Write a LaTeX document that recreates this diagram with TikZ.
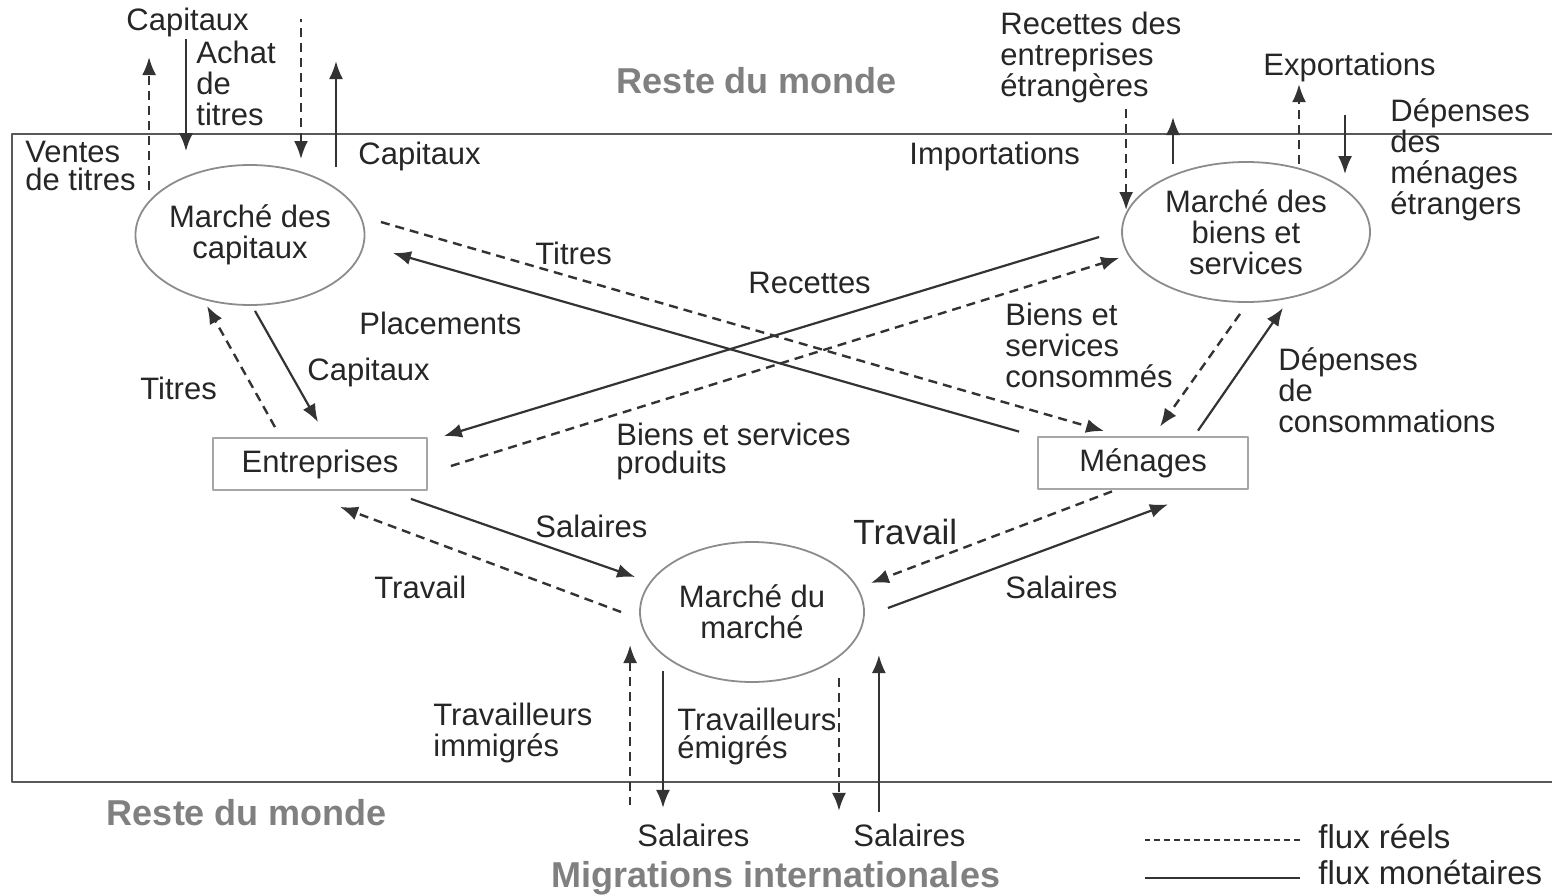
\documentclass[tikz,border=0pt]{standalone}
\usepackage{fontspec}
\setmainfont{Liberation Sans}
\usetikzlibrary{arrows.meta,shapes.geometric}

\begin{document}
\begin{tikzpicture}[x=0.5pt, y=-0.5pt, line join=round,
    every node/.style={inner sep=0pt, text=black!85, font=\fontsize{15.5}{15.5}\selectfont},
    marche/.style={ellipse, draw=black!45, line width=0.9pt, minimum width=112pt, minimum height=70pt, align=center},
    agent/.style={rectangle, draw=black!35, line width=0.9pt, minimum width=107pt, minimum height=26pt},
    etiq/.style={anchor=west, align=left},
    titre/.style={text=black!50, font=\bfseries\fontsize{18}{18}\selectfont},
    reel/.style={draw=black!80, line width=1.2pt, dash pattern=on 4.5pt off 3pt},
    mon/.style={draw=black!80, line width=1.1pt},
    >={Latex[length=9pt,width=7pt]}]

    \useasboundingbox (0,0) rectangle (1552,894);

    % cadre : l'economie nationale
    \draw[black!65, line width=1pt] (1552,134) -- (12,134) -- (12,782) -- (1552,782);

    \node[titre] (rdmHaut) at (757,81) {Reste du monde};
    \node[titre] (rdmBas) at (247,813) {Reste du monde};
    \node[titre] (migr) at (776,878) {Migrations internationales};

    % marches et agents
    \node[marche] (cap) at (250,235) {Marché des\\capitaux};
    \node[marche, minimum width=124pt] (biens) at (1246,232) {Marché des\\biens et\\services};
    \node[marche] (trav) at (752,612) {Marché du\\marché};
    \node[agent] (ent) at (320,464) {Entreprises};
    \node[agent, minimum width=105pt] (men) at (1143,463) {Ménages};

    % etiquettes
    \node[etiq, font=\fontsize{15.5}{14}\selectfont] (lVentes) at (25,166) {Ventes\\de titres};
    \node[etiq] (lCapHaut) at (126,22) {Capitaux};
    \node[etiq] (lAchat) at (196,83) {Achat\\de\\titres};
    \node[etiq] (lCapDroit) at (358,156) {Capitaux};
    \node[etiq] (lRecEtr) at (1000,57) {Recettes des\\entreprises\\étrangères};
    \node[etiq] (lImport) at (909,156) {Importations};
    \node[etiq] (lExport) at (1263,67) {Exportations};
    \node[etiq] (lDepEtr) at (1390,160) {Dépenses\\des\\ménages\\étrangers};
    \node[etiq] (lTitres) at (535,253) {Titres};
    \node[etiq] (lRecettes) at (748,283) {Recettes};
    \node[etiq] (lPlacements) at (359,323) {Placements};
    \node[etiq] (lTitresEnt) at (140,388) {Titres};
    \node[etiq] (lCapitaux) at (307,372) {Capitaux};
    \node[etiq, font=\fontsize{15.5}{14}\selectfont] (lBSprod) at (616,451) {Biens et services\\produits};
    \node[etiq] (lBScons) at (1005,345) {Biens et\\services\\consommés};
    \node[etiq] (lDepCons) at (1278,390) {Dépenses\\de\\consommations};
    \node[etiq] (lSalEnt) at (535,526) {Salaires};
    \node[etiq] (lTravEnt) at (374,587) {Travail};
    \node[etiq, font=\fontsize{17.5}{17.5}\selectfont] (lTravMen) at (853,532) {Travail};
    \node[etiq] (lSalMen) at (1005,587) {Salaires};
    \node[etiq] (lImmig) at (433,733) {Travailleurs\\immigrés};
    \node[etiq, font=\fontsize{15.5}{14}\selectfont] (lEmig) at (677,736) {Travailleurs\\émigrés};
    \node[etiq] (lSalImm) at (637,835) {Salaires};
    \node[etiq] (lSalEmi) at (853,835) {Salaires};

    % flux avec le reste du monde (capitaux)
    \draw[reel,->] ([shift={(14.5,-45)}]cap.west) -- ++(0,-133);
    \draw[mon,<-] ([shift={(-64,-13)}]cap.north) -- ++(0,-112);
    \draw[reel,<-] ([shift={(51,-5)}]cap.north) -- ++(0,-140);
    \draw[mon,->] ([shift={(86,3)}]cap.north) -- ++(0,-106);

    % flux avec le reste du monde (biens)
    \draw[reel,<-] ([shift={(5,-22)}]biens.west) -- ++(0,-102);
    \draw[mon,->] ([shift={(-73,3)}]biens.north) -- ++(0,-47);
    \draw[reel,->] ([shift={(53,3)}]biens.north) -- ++(0,-80);
    \draw[mon,<-] ([shift={(99,13)}]biens.north) -- ++(0,-59);

    % flux croises
    \draw[reel,->] ([shift={(15.5,-13)}]cap.east) -- ([shift={(67,-5)}]men.north west);
    \draw[mon,->] ([shift={(-18,-4.5)}]men.north west) -- ([shift={(27.5,18)}]cap.east);
    \draw[mon,->] ([shift={(-22,5)}]biens.west) -- ([shift={(16,-1)}]ent.north east);
    \draw[reel,->] ([shift={(23,2)}]ent.east) -- ([shift={(-2,26)}]biens.west);

    % entreprises / marche des capitaux
    \draw[reel,->] ([shift={(-45,-10)}]ent.north) -- ([shift={(-43,0)}]cap.south);
    \draw[mon,->] ([shift={(5,5)}]cap.south) -- ([shift={(-2,-15)}]ent.north);

    % menages / marche des biens
    \draw[reel,->] ([shift={(-6,11)}]biens.south) -- ([shift={(17,-9.5)}]men.north);
    \draw[mon,->] ([shift={(55,-5.5)}]men.north) -- ([shift={(37,5)}]biens.south);

    % marche du travail
    \draw[mon,->] ([shift={(-17,8)}]ent.south east) -- ([shift={(-4,-35)}]trav.west);
    \draw[reel,->] ([shift={(-18,0)}]trav.west) -- ([shift={(20,16)}]ent.south);
    \draw[reel,->] ([shift={(-31,1.5)}]men.south) -- ([shift={(6,-29)}]trav.east);
    \draw[mon,->] ([shift={(23,-4)}]trav.east) -- ([shift={(25,14.5)}]men.south);

    % migrations internationales
    \draw[reel,<-] ([shift={(-9,33)}]trav.west) -- ++(0,160);
    \draw[mon,->] ([shift={(-89,-12)}]trav.south) -- ++(0,137);
    \draw[reel,->] ([shift={(87,-5)}]trav.south) -- ++(0,133);
    \draw[mon,<-] ([shift={(14,43)}]trav.east) -- ++(0,157);

    % legende
    \node[etiq, font=\fontsize{16.5}{16.5}\selectfont] (lReels) at (1318,836) {flux réels};
    \node[etiq, font=\fontsize{16.5}{16.5}\selectfont] (lMonet) at (1318,872) {flux monétaires};
    \draw[black!80, line width=0.8pt, dash pattern=on 3pt off 2pt] ([shift={(-18,4)}]lReels.west) -- ++(-155,0);
    \draw[black!80, line width=0.8pt] ([shift={(-18,6)}]lMonet.west) -- ++(-155,0);

\end{tikzpicture}
\end{document}
